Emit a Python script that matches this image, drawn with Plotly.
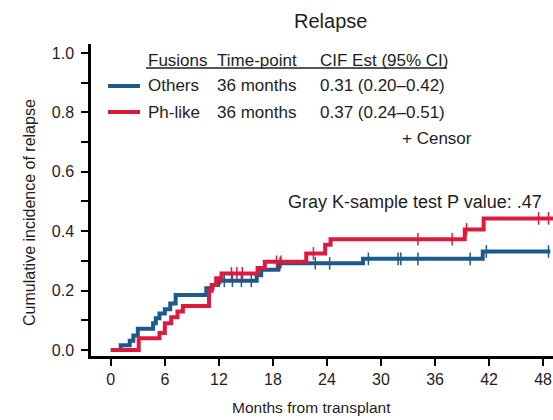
import numpy as np
import plotly.graph_objects as go

# Cumulative incidence of relapse (step functions), months from transplant
others_t = [0, 1.1, 2.1, 2.5, 3.0, 4.7, 5.0, 5.4, 6.0, 6.6, 7.2, 10.6, 11.3, 11.9,
            16.2, 16.7, 18.6, 28.0, 41.3, 48.8]
others_v = [0, 0.016, 0.031, 0.049, 0.072, 0.090, 0.107, 0.123, 0.137, 0.157, 0.185,
            0.208, 0.219, 0.233, 0.252, 0.270, 0.292, 0.307, 0.332, 0.332]
others_censor = [12.6, 13.5, 14.5, 15.6, 18.8, 22.7, 24.3, 28.6, 31.9, 32.2, 34.1,
                 39.9, 41.7, 48.6]

phlike_t = [0, 3.1, 5.4, 6.0, 6.7, 7.4, 8.0, 10.9, 11.2, 11.7, 12.3, 16.3, 17.1,
            21.7, 23.8, 24.4, 39.3, 41.4, 49.1]
phlike_v = [0, 0.040, 0.057, 0.090, 0.110, 0.130, 0.148, 0.200, 0.219, 0.242, 0.258,
            0.276, 0.297, 0.325, 0.354, 0.373, 0.406, 0.443, 0.443]
phlike_censor = [12.2, 13.4, 14.0, 14.6, 18.4, 18.9, 22.5, 34.1, 37.9, 39.5, 47.5, 48.6]

x_ticks = [0, 6, 12, 18, 24, 30, 36, 42, 48]
y_ticks = [0.0, 0.1, 0.2, 0.3, 0.4, 0.5, 0.6, 0.7, 0.8, 0.9, 1.0]
y_ticktext = ["0.0", "", "0.2", "", "0.4", "", "0.6", "", "0.8", "", "1.0"]

table_header = ["Fusions", "Time-point", "CIF Est (95% CI)"]
table_rows = [
    ["Others", "36 months", "0.31 (0.20\u20130.42)"],
    ["Ph-like", "36 months", "0.37 (0.24\u20130.51)"],
]

BLUE = "#1d5a8c"
RED = "#dc1a40"
INK = "#1e1e1e"
FONT = "Liberation Sans, Arial, Helvetica, sans-serif"
NARROW = "Liberation Sans Narrow, Arial Narrow, Liberation Sans, sans-serif"

W, H = 553, 420
L, R, T, B = 91, 0, 44, 64


def step_at(ts, vs, x):
    i = np.searchsorted(np.asarray(ts), x, side="right") - 1
    return float(np.asarray(vs)[i])


def px(xp):
    return (xp - L) / (W - L - R)


def py(yp):
    return (H - B - yp) / (H - T - B)


fig = go.Figure()
for t, v, color, name in [
    (others_t, others_v, BLUE, "Others"),
    (phlike_t, phlike_v, RED, "Ph-like"),
]:
    fig.add_trace(go.Scatter(x=t, y=v, mode="lines", line=dict(color=color, width=4, shape="hv"),
                             name=name, showlegend=False, hoverinfo="skip"))
for t, v, c, color in [
    (others_t, others_v, others_censor, BLUE),
    (phlike_t, phlike_v, phlike_censor, RED),
]:
    fig.add_trace(go.Scatter(x=c, y=[step_at(t, v, x) for x in c], mode="markers",
                             marker=dict(symbol="line-ns", size=9,
                                         line=dict(color=color, width=1.5)),
                             showlegend=False, hoverinfo="skip"))

ann = []
shapes = []

# Title
ann.append(dict(text="Relapse", x=px(330), y=py(21), xref="paper", yref="paper",
                showarrow=False, xanchor="center", yanchor="middle",
                font=dict(family=FONT, size=20, color=INK)))

# Axis titles
ann.append(dict(text="Cumulative incidence of relapse", textangle=-90,
                x=px(29), y=py(213), xref="paper", yref="paper", showarrow=False,
                xanchor="center", yanchor="middle",
                font=dict(family=NARROW, size=16, color=INK)))
ann.append(dict(text="Months from transplant", x=px(311), y=py(407), xref="paper",
                yref="paper", showarrow=False, xanchor="center", yanchor="middle",
                font=dict(family=NARROW, size=15.5, color=INK)))

# Summary table
col_x = [146, 215, 318]
row_y = [60, 86, 112]
for j, h in enumerate(table_header):
    ann.append(dict(text=h, x=px(col_x[j]), y=py(row_y[0]), xref="paper", yref="paper",
                    showarrow=False, xanchor="left", yanchor="middle",
                    font=dict(family=FONT, size=17, color=INK)))
shapes.append(dict(type="line", xref="paper", yref="paper", x0=px(146), x1=px(447),
                   y0=py(68), y1=py(68), line=dict(color=INK, width=1.3)))
for i, (row, color) in enumerate(zip(table_rows, [BLUE, RED])):
    y = row_y[i + 1]
    shapes.append(dict(type="line", xref="paper", yref="paper", x0=px(108), x1=px(140),
                       y0=py(y), y1=py(y), line=dict(color=color, width=4)))
    for j, cell in enumerate(row):
        ann.append(dict(text=cell, x=px(col_x[j]), y=py(y), xref="paper", yref="paper",
                        showarrow=False, xanchor="left", yanchor="middle",
                        font=dict(family=FONT, size=17, color=INK)))
ann.append(dict(text="+ Censor", x=px(400), y=py(138), xref="paper", yref="paper",
                showarrow=False, xanchor="left", yanchor="middle",
                font=dict(family=FONT, size=17, color=INK)))
ann.append(dict(text="Gray K-sample test P value: .47", x=px(544), y=py(202), xref="paper",
                yref="paper", showarrow=False, xanchor="right", yanchor="middle",
                font=dict(family=FONT, size=18, color=INK)))

fig.update_layout(
    width=W, height=H,
    margin=dict(l=L, r=R, t=T, b=B, pad=0),
    paper_bgcolor="white", plot_bgcolor="white",
    annotations=ann, shapes=shapes,
    xaxis=dict(range=[-2.2, 49.1], tickvals=x_ticks, ticks="outside", ticklen=7,
               tickwidth=2, tickcolor="black", showline=True, linewidth=2.5,
               linecolor="black", showgrid=False, zeroline=False,
               tickfont=dict(family=FONT, size=16, color=INK)),
    yaxis=dict(range=[-0.02, 1.03], tickvals=y_ticks, ticktext=y_ticktext,
               ticks="outside", ticklen=7, tickwidth=2, tickcolor="black",
               showline=True, linewidth=2.5, linecolor="black", showgrid=False,
               zeroline=False, ticklabelstandoff=4,
               tickfont=dict(family=FONT, size=16, color=INK)),
)

fig.write_html("out.html")
